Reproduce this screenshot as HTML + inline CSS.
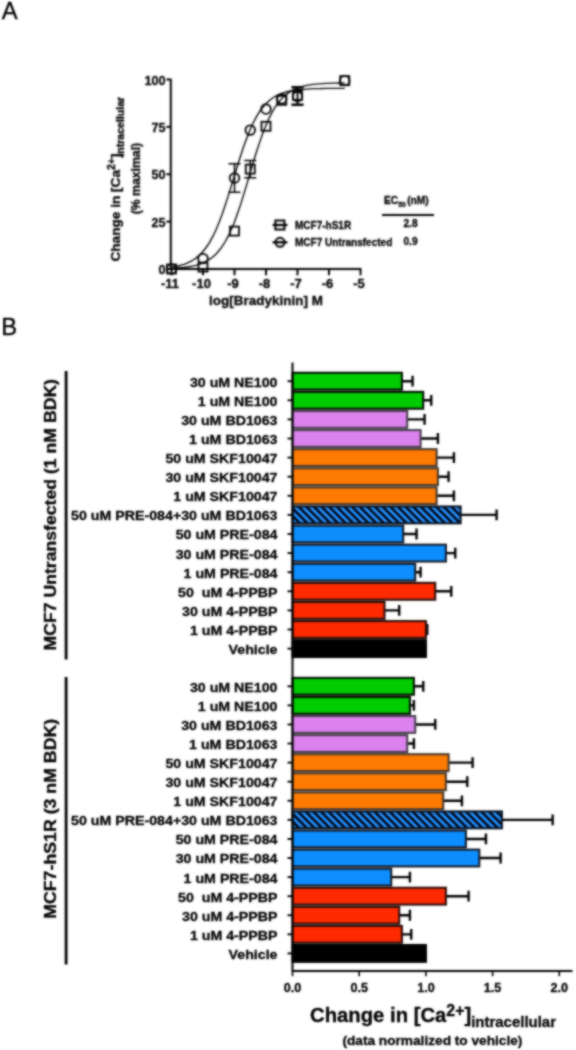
<!DOCTYPE html><html><head><meta charset="utf-8"><title>Figure</title>
<style>html,body{margin:0;padding:0;background:#fff}body{width:576px;height:1050px;overflow:hidden}svg{display:block}text{font-family:"Liberation Sans",sans-serif;fill:#000}.b{font-weight:bold;stroke:#000;stroke-width:0.3px}.n{font-weight:bold}</style></head><body>
<svg width="576" height="1050" viewBox="0 0 576 1050">
<defs><pattern id="hatch" width="5.4" height="5.4" patternUnits="userSpaceOnUse" patternTransform="rotate(45)"><rect width="5.4" height="5.4" fill="#2492ff"/><rect width="5.4" height="2.7" fill="#000a1e"/></pattern>
<filter id="bl" color-interpolation-filters="sRGB" x="-5%" y="-5%" width="110%" height="110%"><feGaussianBlur in="SourceGraphic" stdDeviation="0.9" result="b"/><feComposite in="b" in2="SourceGraphic" operator="arithmetic" k1="0" k2="0.75" k3="0.25" k4="0"/></filter><filter id="bl2" color-interpolation-filters="sRGB" x="-5%" y="-5%" width="110%" height="110%"><feGaussianBlur in="SourceGraphic" stdDeviation="0.85" result="b"/><feComposite in="b" in2="SourceGraphic" operator="arithmetic" k1="0" k2="0.8" k3="0.2" k4="0"/></filter></defs>
<rect width="576" height="1050" fill="#fff"/>
<g filter="url(#bl2)"><rect x="90" y="55" width="380" height="262" fill="#fff"/>
<path d="M170.8 78.7V269.0H361.3" fill="none" stroke="#000" stroke-width="2"/>
<path d="M166.3 269.0H170.8" stroke="#000" stroke-width="2"/>
<text class="b" x="165.5" y="274.1" font-size="12.6" text-anchor="end">0</text>
<path d="M166.3 221.625H170.8" stroke="#000" stroke-width="2"/>
<text class="b" x="165.5" y="226.725" font-size="12.6" text-anchor="end">25</text>
<path d="M166.3 174.25H170.8" stroke="#000" stroke-width="2"/>
<text class="b" x="165.5" y="179.35" font-size="12.6" text-anchor="end">50</text>
<path d="M166.3 126.875H170.8" stroke="#000" stroke-width="2"/>
<text class="b" x="165.5" y="131.975" font-size="12.6" text-anchor="end">75</text>
<path d="M166.3 79.5H170.8" stroke="#000" stroke-width="2"/>
<text class="b" x="165.5" y="84.6" font-size="12.6" text-anchor="end">100</text>
<path d="M171.5 269.0V275.3" stroke="#000" stroke-width="2"/>
<text class="b" x="170.0" y="288.2" font-size="13" text-anchor="middle">-11</text>
<path d="M203.0 269.0V275.3" stroke="#000" stroke-width="2"/>
<text class="b" x="201.5" y="288.2" font-size="13" text-anchor="middle">-10</text>
<path d="M234.5 269.0V275.3" stroke="#000" stroke-width="2"/>
<text class="b" x="233.0" y="288.2" font-size="13" text-anchor="middle">-9</text>
<path d="M266.0 269.0V275.3" stroke="#000" stroke-width="2"/>
<text class="b" x="264.5" y="288.2" font-size="13" text-anchor="middle">-8</text>
<path d="M297.5 269.0V275.3" stroke="#000" stroke-width="2"/>
<text class="b" x="296.0" y="288.2" font-size="13" text-anchor="middle">-7</text>
<path d="M329.0 269.0V275.3" stroke="#000" stroke-width="2"/>
<text class="b" x="327.5" y="288.2" font-size="13" text-anchor="middle">-6</text>
<path d="M360.5 269.0V275.3" stroke="#000" stroke-width="2"/>
<text class="b" x="359.0" y="288.2" font-size="13" text-anchor="middle">-5</text>
<text class="b" x="266" y="305" font-size="13.4" text-anchor="middle" textLength="114">log[Bradykinin] M</text>
<g transform="translate(119.8,261.6) rotate(-90)"><text class="b" font-size="13.3" x="0" y="0" textLength="164.8" lengthAdjust="spacingAndGlyphs">Change in [Ca<tspan font-size="10.2" dy="-4.4">2+</tspan><tspan dy="4.4">]</tspan><tspan font-size="10.3" dy="4.6" dx="-3">intracellular</tspan></text></g>
<g transform="translate(140.2,178.6) rotate(-90)"><text class="b" font-size="12.2" x="0" y="0" text-anchor="middle" textLength="71.5" lengthAdjust="spacingAndGlyphs">(% maximal)</text></g>
<path d="M171.5 268.4L174.6 268.2L177.8 268.0L180.9 267.7L184.1 267.4L187.2 267.0L190.4 266.5L193.5 265.9L196.7 265.1L199.8 264.1L203.0 262.9L206.1 261.4L209.3 259.5L212.4 257.2L215.6 254.4L218.7 251.0L221.9 246.9L225.0 242.0L228.2 236.2L231.3 229.5L234.5 221.9L237.6 213.3L240.8 203.9L243.9 193.9L247.1 183.4L250.2 172.6L253.4 162.0L256.5 151.8L259.7 142.1L262.8 133.2L266.0 125.2L269.1 118.1L272.3 112.0L275.4 106.7L278.6 102.3L281.7 98.6L284.9 95.6L288.0 93.1L291.2 91.0L294.3 89.4L297.5 88.1L300.6 87.0L303.8 86.1L306.9 85.4L310.1 84.9L313.2 84.4L316.4 84.1L319.5 83.8L322.7 83.6L325.8 83.4L329.0 83.3L332.1 83.2L335.3 83.1L338.4 83.0L341.6 82.9L344.7 82.9" fill="none" stroke="#000" stroke-width="1.35"/>
<path d="M171.5 267.1L174.6 266.6L177.8 266.0L180.9 265.2L184.1 264.3L187.2 263.1L190.4 261.6L193.5 259.8L196.7 257.6L199.8 254.8L203.0 251.5L206.1 247.5L209.3 242.8L212.4 237.2L215.6 230.7L218.7 223.2L221.9 214.9L225.0 205.8L228.2 196.1L231.3 185.9L234.5 175.5L237.6 165.2L240.8 155.2L243.9 145.8L247.1 137.2L250.2 129.4L253.4 122.5L256.5 116.6L259.7 111.5L262.8 107.2L266.0 103.6L269.1 100.7L272.3 98.3L275.4 96.3L278.6 94.7L281.7 93.4L284.9 92.4L288.0 91.5L291.2 90.9L294.3 90.3L297.5 89.9L300.6 89.5L303.8 89.3L306.9 89.1L310.1 88.9L313.2 88.7L316.4 88.6L319.5 88.6L322.7 88.5L325.8 88.4L329.0 88.4L332.1 88.4L335.3 88.3L338.4 88.3L341.6 88.3L344.7 88.3" fill="none" stroke="#000" stroke-width="1.35"/>
<rect x="167.0" y="264.5" width="9" height="9" fill="none" stroke="#000" stroke-width="1.8"/>
<rect x="198.5" y="262.605" width="9" height="9" fill="none" stroke="#000" stroke-width="1.8"/>
<rect x="230.0" y="226.6" width="9" height="9" fill="none" stroke="#000" stroke-width="1.8"/>
<path d="M250.25 177.661V160.606M244.25 177.661h12M244.25 160.606h12" fill="none" stroke="#000" stroke-width="1.5"/>
<rect x="245.75" y="164.6335" width="9" height="9" fill="none" stroke="#000" stroke-width="1.8"/>
<rect x="261.5" y="121.8065" width="9" height="9" fill="none" stroke="#000" stroke-width="1.8"/>
<rect x="277.25" y="95.845" width="9" height="9" fill="none" stroke="#000" stroke-width="1.8"/>
<path d="M297.5 104.13499999999999V86.70100000000002M291.5 104.13499999999999h12M291.5 86.70100000000002h12" fill="none" stroke="#000" stroke-width="1.5"/>
<rect x="293.0" y="90.918" width="9" height="9" fill="none" stroke="#000" stroke-width="1.8"/>
<rect x="340.25" y="76.13699999999997" width="9" height="9" fill="none" stroke="#000" stroke-width="1.8"/>
<circle cx="171.5" cy="269.0" r="4.8" fill="none" stroke="#000" stroke-width="1.8"/>
<circle cx="203.0" cy="258.5775" r="4.8" fill="none" stroke="#000" stroke-width="1.8"/>
<path d="M234.5 192.2525V163.8275M228.5 192.2525h12M228.5 163.8275h12" fill="none" stroke="#000" stroke-width="1.5"/>
<circle cx="234.5" cy="178.04000000000002" r="4.8" fill="none" stroke="#000" stroke-width="1.8"/>
<circle cx="250.25" cy="130.0965" r="4.8" fill="none" stroke="#000" stroke-width="1.8"/>
<circle cx="266.0" cy="109.06199999999998" r="4.8" fill="none" stroke="#000" stroke-width="1.8"/>
<circle cx="281.75" cy="98.82900000000001" r="4.8" fill="none" stroke="#000" stroke-width="1.8"/>
<path d="M297.5 105.27199999999999V87.838M291.5 105.27199999999999h12M291.5 87.838h12" fill="none" stroke="#000" stroke-width="1.5"/>
<circle cx="297.5" cy="96.555" r="4.8" fill="none" stroke="#000" stroke-width="1.8"/>
<circle cx="344.75" cy="80.63699999999997" r="4.8" fill="none" stroke="#000" stroke-width="1.8"/>
<rect x="275.4" y="220.5" width="9" height="9" fill="none" stroke="#000" stroke-width="2"/><path d="M272.6 225h14.8" stroke="#000" stroke-width="2.3"/>
<circle cx="280" cy="242.3" r="4.5" fill="none" stroke="#000" stroke-width="2"/><path d="M272.6 242.3h14.8" stroke="#000" stroke-width="2.3"/>
<text class="b" x="295" y="228.6" font-size="10">MCF7-hS1R</text>
<text class="b" x="295" y="245.9" font-size="10">MCF7 Untransfected</text>
<text class="b" x="384" y="203.8" font-size="10.2">EC<tspan font-size="6.8" dy="2.8">50</tspan><tspan dy="-2.8" dx="1.5">(nM)</tspan></text>
<path d="M382 215h52" stroke="#000" stroke-width="2"/>
<text class="b" x="410.5" y="226.6" font-size="10.2" text-anchor="middle">2.8</text>
<text class="b" x="410.5" y="245.2" font-size="10.2" text-anchor="middle">0.9</text>
</g><g filter="url(#bl)"><rect x="0" y="318" width="576" height="732" fill="#fff"/>
<rect x="0" y="0" width="40" height="40" fill="#fff"/>
<text x="1.8" y="19" font-size="23.8" stroke="#000" stroke-width="0.35">A</text>
<text x="1.2" y="335" font-size="23.8" stroke="#000" stroke-width="0.35">B</text>
<path d="M401.88800000000003 381.2H412.56M412.56 375.8v10.8" fill="none" stroke="#000" stroke-width="2.4"/>
<rect x="292.5" y="372.8" width="109.4" height="16.8" fill="#00cc00" stroke="#021002" stroke-width="2.1"/>
<path d="M287.5 381.2H292.5" stroke="#000" stroke-width="1.9"/>
<text class="b" x="189.9" y="386.59999999999997" font-size="13.5" textLength="87.6" lengthAdjust="spacingAndGlyphs" xml:space="preserve">30 uM NE100</text>
<path d="M423.23199999999997 400.3H431.236M431.236 394.90000000000003v10.8" fill="none" stroke="#000" stroke-width="2.4"/>
<rect x="292.5" y="391.90000000000003" width="130.7" height="16.8" fill="#00cc00" stroke="#021002" stroke-width="2.1"/>
<path d="M287.5 400.3H292.5" stroke="#000" stroke-width="1.9"/>
<text class="b" x="197.8" y="405.7" font-size="13.5" textLength="79.7" lengthAdjust="spacingAndGlyphs" xml:space="preserve">1 uM NE100</text>
<path d="M407.224 419.4H424.56600000000003M424.56600000000003 414.0v10.8" fill="none" stroke="#000" stroke-width="2.4"/>
<rect x="292.5" y="411.0" width="114.7" height="16.8" fill="#dc82ee" stroke="#4a4050" stroke-width="2.1"/>
<path d="M287.5 419.4H292.5" stroke="#000" stroke-width="1.9"/>
<text class="b" x="181.2" y="424.79999999999995" font-size="13.5" textLength="96.3" lengthAdjust="spacingAndGlyphs" xml:space="preserve">30 uM BD1063</text>
<path d="M420.56399999999996 438.5H437.90599999999995M437.90599999999995 433.1v10.8" fill="none" stroke="#000" stroke-width="2.4"/>
<rect x="292.5" y="430.1" width="128.1" height="16.8" fill="#dc82ee" stroke="#4a4050" stroke-width="2.1"/>
<path d="M287.5 438.5H292.5" stroke="#000" stroke-width="1.9"/>
<text class="b" x="189.1" y="443.9" font-size="13.5" textLength="88.4" lengthAdjust="spacingAndGlyphs" xml:space="preserve">1 uM BD1063</text>
<path d="M436.572 457.6H453.914M453.914 452.20000000000005v10.8" fill="none" stroke="#000" stroke-width="2.4"/>
<rect x="292.5" y="449.20000000000005" width="144.1" height="16.8" fill="#ff7a00" stroke="#4a3a2c" stroke-width="2.1"/>
<path d="M287.5 457.6H292.5" stroke="#000" stroke-width="1.9"/>
<text class="b" x="165.4" y="463.0" font-size="13.5" textLength="112.1" lengthAdjust="spacingAndGlyphs" xml:space="preserve">50 uM SKF10047</text>
<path d="M437.906 476.7H448.57800000000003M448.57800000000003 471.3v10.8" fill="none" stroke="#000" stroke-width="2.4"/>
<rect x="292.5" y="468.3" width="145.4" height="16.8" fill="#ff7a00" stroke="#4a3a2c" stroke-width="2.1"/>
<path d="M287.5 476.7H292.5" stroke="#000" stroke-width="1.9"/>
<text class="b" x="165.4" y="482.09999999999997" font-size="13.5" textLength="112.1" lengthAdjust="spacingAndGlyphs" xml:space="preserve">30 uM SKF10047</text>
<path d="M436.572 495.8H453.914M453.914 490.40000000000003v10.8" fill="none" stroke="#000" stroke-width="2.4"/>
<rect x="292.5" y="487.40000000000003" width="144.1" height="16.8" fill="#ff7a00" stroke="#4a3a2c" stroke-width="2.1"/>
<path d="M287.5 495.8H292.5" stroke="#000" stroke-width="1.9"/>
<text class="b" x="173.3" y="501.2" font-size="13.5" textLength="104.2" lengthAdjust="spacingAndGlyphs" xml:space="preserve">1 uM SKF10047</text>
<path d="M460.584 514.9H496.602M496.602 509.5v10.8" fill="none" stroke="#000" stroke-width="2.4"/>
<rect x="292.5" y="506.5" width="168.1" height="16.8" fill="url(#hatch)" stroke="#0a1424" stroke-width="2.1"/>
<path d="M287.5 514.9H292.5" stroke="#000" stroke-width="1.9"/>
<text class="b" x="71.1" y="520.3" font-size="13.5" textLength="206.4" lengthAdjust="spacingAndGlyphs" xml:space="preserve">50 uM PRE-084+30 uM BD1063</text>
<path d="M403.222 534.0H416.562M416.562 528.6v10.8" fill="none" stroke="#000" stroke-width="2.4"/>
<rect x="292.5" y="525.6" width="110.7" height="16.8" fill="#0c8eff" stroke="#141c2a" stroke-width="2.1"/>
<path d="M287.5 534.0H292.5" stroke="#000" stroke-width="1.9"/>
<text class="b" x="175.7" y="539.4" font-size="13.5" textLength="101.8" lengthAdjust="spacingAndGlyphs" xml:space="preserve">50 uM PRE-084</text>
<path d="M445.90999999999997 553.1H455.248M455.248 547.7v10.8" fill="none" stroke="#000" stroke-width="2.4"/>
<rect x="292.5" y="544.7" width="153.4" height="16.8" fill="#0c8eff" stroke="#141c2a" stroke-width="2.1"/>
<path d="M287.5 553.1H292.5" stroke="#000" stroke-width="1.9"/>
<text class="b" x="175.7" y="558.5" font-size="13.5" textLength="101.8" lengthAdjust="spacingAndGlyphs" xml:space="preserve">30 uM PRE-084</text>
<path d="M415.228 572.2H420.564M420.564 566.8000000000001v10.8" fill="none" stroke="#000" stroke-width="2.4"/>
<rect x="292.5" y="563.8000000000001" width="122.7" height="16.8" fill="#0c8eff" stroke="#141c2a" stroke-width="2.1"/>
<path d="M287.5 572.2H292.5" stroke="#000" stroke-width="1.9"/>
<text class="b" x="183.6" y="577.6" font-size="13.5" textLength="93.9" lengthAdjust="spacingAndGlyphs" xml:space="preserve">1 uM PRE-084</text>
<path d="M435.23800000000006 591.3H451.246M451.246 585.9v10.8" fill="none" stroke="#000" stroke-width="2.4"/>
<rect x="292.5" y="582.9" width="142.7" height="16.8" fill="#ff2a00" stroke="#2c0e0a" stroke-width="2.1"/>
<path d="M287.5 591.3H292.5" stroke="#000" stroke-width="1.9"/>
<text class="b" x="178.1" y="596.6999999999999" font-size="13.5" textLength="99.4" lengthAdjust="spacingAndGlyphs" xml:space="preserve">50  uM 4-PPBP</text>
<path d="M384.546 610.4H399.22M399.22 605.0v10.8" fill="none" stroke="#000" stroke-width="2.4"/>
<rect x="292.5" y="602.0" width="92.0" height="16.8" fill="#ff2a00" stroke="#2c0e0a" stroke-width="2.1"/>
<path d="M287.5 610.4H292.5" stroke="#000" stroke-width="1.9"/>
<text class="b" x="182.0" y="615.8" font-size="13.5" textLength="95.5" lengthAdjust="spacingAndGlyphs" xml:space="preserve">30 uM 4-PPBP</text>
<path d="M425.9 629.5H427.23400000000004M427.23400000000004 624.1v10.8" fill="none" stroke="#000" stroke-width="2.4"/>
<rect x="292.5" y="621.1" width="133.4" height="16.8" fill="#ff2a00" stroke="#2c0e0a" stroke-width="2.1"/>
<path d="M287.5 629.5H292.5" stroke="#000" stroke-width="1.9"/>
<text class="b" x="189.9" y="634.9" font-size="13.5" textLength="87.6" lengthAdjust="spacingAndGlyphs" xml:space="preserve">1 uM 4-PPBP</text>
<rect x="292.5" y="640.2" width="133.4" height="16.8" fill="#000" stroke="#000" stroke-width="2.1"/>
<path d="M287.5 648.6H292.5" stroke="#000" stroke-width="1.9"/>
<text class="b" x="228.6" y="654.0" font-size="13.5" textLength="48.9" lengthAdjust="spacingAndGlyphs" xml:space="preserve">Vehicle</text>
<path d="M413.894 686.3H423.23199999999997M423.23199999999997 680.9v10.8" fill="none" stroke="#000" stroke-width="2.4"/>
<rect x="292.5" y="677.9" width="121.4" height="16.8" fill="#00cc00" stroke="#021002" stroke-width="2.1"/>
<path d="M287.5 686.3H292.5" stroke="#000" stroke-width="1.9"/>
<text class="b" x="189.9" y="691.6999999999999" font-size="13.5" textLength="87.6" lengthAdjust="spacingAndGlyphs" xml:space="preserve">30 uM NE100</text>
<path d="M409.892 705.38H413.894M413.894 699.98v10.8" fill="none" stroke="#000" stroke-width="2.4"/>
<rect x="292.5" y="696.98" width="117.4" height="16.8" fill="#00cc00" stroke="#021002" stroke-width="2.1"/>
<path d="M287.5 705.38H292.5" stroke="#000" stroke-width="1.9"/>
<text class="b" x="197.8" y="710.78" font-size="13.5" textLength="79.7" lengthAdjust="spacingAndGlyphs" xml:space="preserve">1 uM NE100</text>
<path d="M415.228 724.4599999999999H435.23800000000006M435.23800000000006 719.06v10.8" fill="none" stroke="#000" stroke-width="2.4"/>
<rect x="292.5" y="716.06" width="122.7" height="16.8" fill="#dc82ee" stroke="#4a4050" stroke-width="2.1"/>
<path d="M287.5 724.4599999999999H292.5" stroke="#000" stroke-width="1.9"/>
<text class="b" x="181.2" y="729.8599999999999" font-size="13.5" textLength="96.3" lengthAdjust="spacingAndGlyphs" xml:space="preserve">30 uM BD1063</text>
<path d="M407.224 743.54H413.894M413.894 738.14v10.8" fill="none" stroke="#000" stroke-width="2.4"/>
<rect x="292.5" y="735.14" width="114.7" height="16.8" fill="#dc82ee" stroke="#4a4050" stroke-width="2.1"/>
<path d="M287.5 743.54H292.5" stroke="#000" stroke-width="1.9"/>
<text class="b" x="189.1" y="748.9399999999999" font-size="13.5" textLength="88.4" lengthAdjust="spacingAndGlyphs" xml:space="preserve">1 uM BD1063</text>
<path d="M448.578 762.6199999999999H472.59000000000003M472.59000000000003 757.2199999999999v10.8" fill="none" stroke="#000" stroke-width="2.4"/>
<rect x="292.5" y="754.2199999999999" width="156.1" height="16.8" fill="#ff7a00" stroke="#4a3a2c" stroke-width="2.1"/>
<path d="M287.5 762.6199999999999H292.5" stroke="#000" stroke-width="1.9"/>
<text class="b" x="165.4" y="768.0199999999999" font-size="13.5" textLength="112.1" lengthAdjust="spacingAndGlyphs" xml:space="preserve">50 uM SKF10047</text>
<path d="M445.90999999999997 781.6999999999999H467.254M467.254 776.3v10.8" fill="none" stroke="#000" stroke-width="2.4"/>
<rect x="292.5" y="773.3" width="153.4" height="16.8" fill="#ff7a00" stroke="#4a3a2c" stroke-width="2.1"/>
<path d="M287.5 781.6999999999999H292.5" stroke="#000" stroke-width="1.9"/>
<text class="b" x="165.4" y="787.0999999999999" font-size="13.5" textLength="112.1" lengthAdjust="spacingAndGlyphs" xml:space="preserve">30 uM SKF10047</text>
<path d="M443.24199999999996 800.78H461.918M461.918 795.38v10.8" fill="none" stroke="#000" stroke-width="2.4"/>
<rect x="292.5" y="792.38" width="150.7" height="16.8" fill="#ff7a00" stroke="#4a3a2c" stroke-width="2.1"/>
<path d="M287.5 800.78H292.5" stroke="#000" stroke-width="1.9"/>
<text class="b" x="173.3" y="806.18" font-size="13.5" textLength="104.2" lengthAdjust="spacingAndGlyphs" xml:space="preserve">1 uM SKF10047</text>
<path d="M501.938 819.8599999999999H552.6300000000001M552.6300000000001 814.4599999999999v10.8" fill="none" stroke="#000" stroke-width="2.4"/>
<rect x="292.5" y="811.4599999999999" width="209.4" height="16.8" fill="url(#hatch)" stroke="#0a1424" stroke-width="2.1"/>
<path d="M287.5 819.8599999999999H292.5" stroke="#000" stroke-width="1.9"/>
<text class="b" x="71.1" y="825.2599999999999" font-size="13.5" textLength="206.4" lengthAdjust="spacingAndGlyphs" xml:space="preserve">50 uM PRE-084+30 uM BD1063</text>
<path d="M465.92 838.9399999999999H485.93M485.93 833.54v10.8" fill="none" stroke="#000" stroke-width="2.4"/>
<rect x="292.5" y="830.54" width="173.4" height="16.8" fill="#0c8eff" stroke="#141c2a" stroke-width="2.1"/>
<path d="M287.5 838.9399999999999H292.5" stroke="#000" stroke-width="1.9"/>
<text class="b" x="175.7" y="844.3399999999999" font-size="13.5" textLength="101.8" lengthAdjust="spacingAndGlyphs" xml:space="preserve">50 uM PRE-084</text>
<path d="M479.26 858.02H500.604M500.604 852.62v10.8" fill="none" stroke="#000" stroke-width="2.4"/>
<rect x="292.5" y="849.62" width="186.8" height="16.8" fill="#0c8eff" stroke="#141c2a" stroke-width="2.1"/>
<path d="M287.5 858.02H292.5" stroke="#000" stroke-width="1.9"/>
<text class="b" x="175.7" y="863.42" font-size="13.5" textLength="101.8" lengthAdjust="spacingAndGlyphs" xml:space="preserve">30 uM PRE-084</text>
<path d="M391.216 877.0999999999999H409.892M409.892 871.6999999999999v10.8" fill="none" stroke="#000" stroke-width="2.4"/>
<rect x="292.5" y="868.6999999999999" width="98.7" height="16.8" fill="#0c8eff" stroke="#141c2a" stroke-width="2.1"/>
<path d="M287.5 877.0999999999999H292.5" stroke="#000" stroke-width="1.9"/>
<text class="b" x="183.6" y="882.4999999999999" font-size="13.5" textLength="93.9" lengthAdjust="spacingAndGlyphs" xml:space="preserve">1 uM PRE-084</text>
<path d="M445.90999999999997 896.18H468.58799999999997M468.58799999999997 890.78v10.8" fill="none" stroke="#000" stroke-width="2.4"/>
<rect x="292.5" y="887.78" width="153.4" height="16.8" fill="#ff2a00" stroke="#2c0e0a" stroke-width="2.1"/>
<path d="M287.5 896.18H292.5" stroke="#000" stroke-width="1.9"/>
<text class="b" x="178.1" y="901.5799999999999" font-size="13.5" textLength="99.4" lengthAdjust="spacingAndGlyphs" xml:space="preserve">50  uM 4-PPBP</text>
<path d="M399.22 915.26H409.892M409.892 909.86v10.8" fill="none" stroke="#000" stroke-width="2.4"/>
<rect x="292.5" y="906.86" width="106.7" height="16.8" fill="#ff2a00" stroke="#2c0e0a" stroke-width="2.1"/>
<path d="M287.5 915.26H292.5" stroke="#000" stroke-width="1.9"/>
<text class="b" x="182.0" y="920.66" font-size="13.5" textLength="95.5" lengthAdjust="spacingAndGlyphs" xml:space="preserve">30 uM 4-PPBP</text>
<path d="M401.88800000000003 934.3399999999999H411.226M411.226 928.9399999999999v10.8" fill="none" stroke="#000" stroke-width="2.4"/>
<rect x="292.5" y="925.9399999999999" width="109.4" height="16.8" fill="#ff2a00" stroke="#2c0e0a" stroke-width="2.1"/>
<path d="M287.5 934.3399999999999H292.5" stroke="#000" stroke-width="1.9"/>
<text class="b" x="189.9" y="939.7399999999999" font-size="13.5" textLength="87.6" lengthAdjust="spacingAndGlyphs" xml:space="preserve">1 uM 4-PPBP</text>
<rect x="292.5" y="945.02" width="133.4" height="16.8" fill="#000" stroke="#000" stroke-width="2.1"/>
<path d="M287.5 953.42H292.5" stroke="#000" stroke-width="1.9"/>
<text class="b" x="228.6" y="958.8199999999999" font-size="13.5" textLength="48.9" lengthAdjust="spacingAndGlyphs" xml:space="preserve">Vehicle</text>
<path d="M292.5 362.5V971.5" stroke="#000" stroke-width="2"/>
<path d="M292.5 971H572.5" stroke="#000" stroke-width="1.8"/>
<path d="M292.5 971v5.2" stroke="#000" stroke-width="1.6"/>
<text class="b" x="292.5" y="992.3" font-size="12.6" text-anchor="middle">0.0</text>
<path d="M359.2 971v5.2" stroke="#000" stroke-width="1.6"/>
<text class="b" x="359.2" y="992.3" font-size="12.6" text-anchor="middle">0.5</text>
<path d="M425.9 971v5.2" stroke="#000" stroke-width="1.6"/>
<text class="b" x="425.9" y="992.3" font-size="12.6" text-anchor="middle">1.0</text>
<path d="M492.6 971v5.2" stroke="#000" stroke-width="1.6"/>
<text class="b" x="492.6" y="992.3" font-size="12.6" text-anchor="middle">1.5</text>
<path d="M559.3 971v5.2" stroke="#000" stroke-width="1.6"/>
<text class="b" x="559.3" y="992.3" font-size="12.6" text-anchor="middle">2.0</text>
<path d="M66.1 371V659.6" stroke="#000" stroke-width="2.8"/>
<path d="M66.1 677V964.6" stroke="#000" stroke-width="2.8"/>
<g transform="translate(55.8,650.5) rotate(-90)"><text class="b" font-size="16.6" textLength="271.5" lengthAdjust="spacingAndGlyphs">MCF7 Untransfected (1 nM BDK)</text></g>
<g transform="translate(55.8,918.8) rotate(-90)"><text class="b" font-size="16.6" textLength="200" lengthAdjust="spacingAndGlyphs">MCF7-hS1R (3 nM BDK)</text></g>
<text class="b" x="310" y="1022" font-size="20.2" textLength="246" lengthAdjust="spacingAndGlyphs">Change in [Ca<tspan font-size="15.8" dy="-6.2">2+</tspan><tspan dy="6.2">]</tspan><tspan font-size="14.9" dy="5.1">intracellular</tspan></text>
<text class="b" x="432.4" y="1045.4" font-size="13.6" text-anchor="middle" textLength="180" lengthAdjust="spacingAndGlyphs">(data normalized to vehicle)</text>
</g></svg></body></html>
